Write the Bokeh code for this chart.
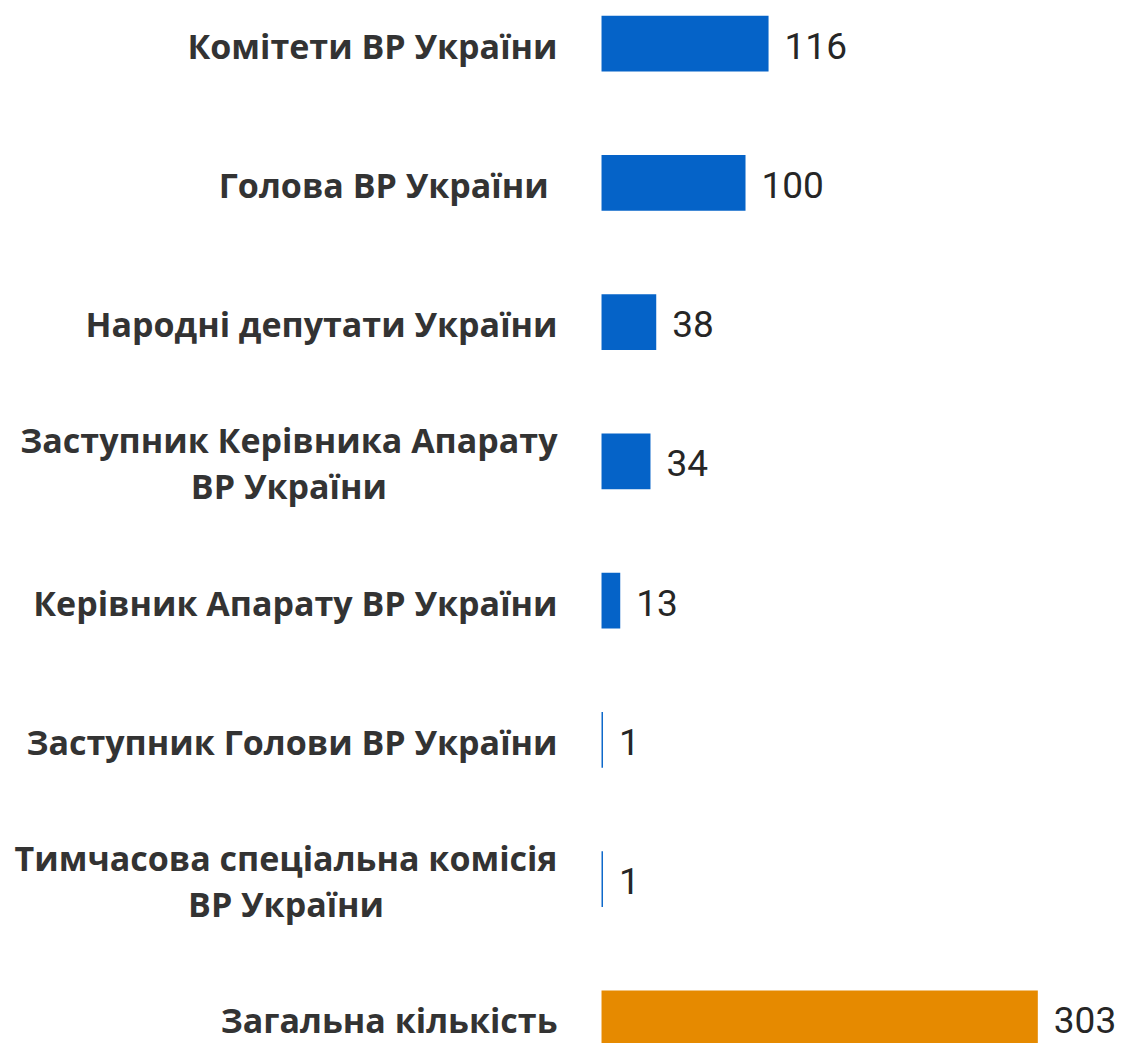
from bokeh.plotting import figure
from bokeh.models import ColumnDataSource, Range1d
from bokeh.core.properties import value
from bokeh.embed import file_html
from bokeh.resources import INLINE

categories = [
    "Комітети ВР України",
    "Голова ВР України ",
    "Народні депутати України",
    "Заступник Керівника Апарату\nВР України",
    "Керівник Апарату ВР України",
    "Заступник Голови ВР України",
    "Тимчасова спеціальна комісія\nВР України",
    "Загальна кількість",
]
values = [116, 100, 38, 34, 13, 1, 1, 303]
colors = ["#0563C8"] * 7 + ["#E68A00"]

idx = list(range(len(categories)))
src = ColumnDataSource(dict(y=idx, v=values, c=colors, cat=categories,
                            lbl=[str(v) for v in values]))

p = figure(width=1124, height=1043, output_backend="svg", toolbar_location=None,
           x_range=Range1d(-417.4, 363.2), y_range=Range1d(7.18, -0.309),
           min_border=0, outline_line_color=None)
p.xaxis.visible = False
p.yaxis.visible = False
p.grid.visible = False
p.background_fill_color = "white"
p.border_fill_color = "white"

p.hbar(y="y", left=0, right="v", height=0.4, fill_color="c", line_color=None, source=src)

p.text(x="v", y="y", text="lbl", source=src, x_offset=16, y_offset=2,
       text_align="left", text_baseline="middle",
       text_font=value("Roboto"), text_font_size="37px", text_color="#262626")

p.text(x=0, y="y", text="cat", source=src, x_offset=-44, y_offset=2,
       anchor="center_right", text_align="center", text_baseline="middle",
       text_font=value("Open Sans"), text_font_style="bold",
       text_font_size="34px", text_color="#333333", text_line_height=1.0)

open("out.html", "w").write(file_html(p, INLINE))
